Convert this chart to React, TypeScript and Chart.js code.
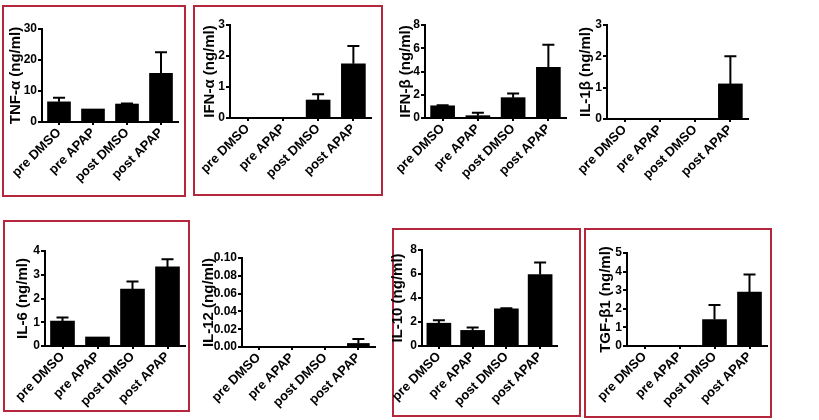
import React, { useEffect, useRef } from "react";
import { Chart, registerables } from "chart.js";

Chart.register(...registerables);
Chart.defaults.font.family = "'Liberation Sans', Arial, sans-serif";

// ---- data ----
const categories = ["pre DMSO", "pre APAP", "post DMSO", "post APAP"];

const tnfMean = [6.5, 4.2, 5.8, 15.7];
const tnfUpper = [7.8, 4.2, 6.0, 22.5];

const ifnaMean = [0, 0, 0.58, 1.75];
const ifnaUpper = [0, 0, 0.77, 2.32];

const ifnbMean = [1.05, 0.2, 1.75, 4.35];
const ifnbUpper = [1.1, 0.45, 2.1, 6.3];

const il1bMean = [0, 0, 0, 1.12];
const il1bUpper = [0, 0, 0, 2.0];

const il6Mean = [1.05, 0.38, 2.4, 3.33];
const il6Upper = [1.2, 0.38, 2.72, 3.65];

const il12Mean = [0, 0, 0, 0.004];
const il12Upper = [0, 0, 0, 0.009];

const il10Mean = [1.9, 1.3, 3.1, 5.95];
const il10Upper = [2.15, 1.55, 3.15, 6.95];

const tgfMean = [0, 0, 1.42, 2.9];
const tgfUpper = [0, 0, 2.2, 3.85];

// ---- layout ----
const X_AXIS_H = 72;
const PAD_TOP = 12;
const PAD_RIGHT = 6;

type PanelDef = {
  title: string;
  mean: number[];
  upper: number[];
  max: number;
  step: number;
  decimals: number;
  canvasLeft: number;
  axisX: number;
  right: number;
  yTop: number;
  yBottom: number;
  barW: number;
};

const panels: PanelDef[] = [
  { title: "TNF-α (ng/ml)", mean: tnfMean, upper: tnfUpper, max: 30, step: 10, decimals: 0, canvasLeft: 7, axisX: 42, right: 178, yTop: 29, yBottom: 122, barW: 23 },
  { title: "IFN-α (ng/ml)", mean: ifnaMean, upper: ifnaUpper, max: 3, step: 1, decimals: 0, canvasLeft: 201, axisX: 230, right: 371, yTop: 25, yBottom: 118, barW: 24 },
  { title: "IFN-β (ng/ml)", mean: ifnbMean, upper: ifnbUpper, max: 8, step: 2, decimals: 0, canvasLeft: 397, axisX: 425, right: 566, yTop: 25, yBottom: 118, barW: 24 },
  { title: "IL-1β (ng/ml)", mean: il1bMean, upper: il1bUpper, max: 3, step: 1, decimals: 0, canvasLeft: 577, axisX: 607, right: 748, yTop: 25, yBottom: 119, barW: 24 },
  { title: "IL-6 (ng/ml)", mean: il6Mean, upper: il6Upper, max: 4, step: 1, decimals: 0, canvasLeft: 14, axisX: 45, right: 185, yTop: 251, yBottom: 346, barW: 24 },
  { title: "IL-12 (ng/ml)", mean: il12Mean, upper: il12Upper, max: 0.1, step: 0.02, decimals: 2, canvasLeft: 200, axisX: 242, right: 375, yTop: 258, yBottom: 347, barW: 22 },
  { title: "IL-10 (ng/ml)", mean: il10Mean, upper: il10Upper, max: 8, step: 2, decimals: 0, canvasLeft: 389, axisX: 422, right: 557, yTop: 250, yBottom: 346, barW: 24 },
  { title: "TGF-β1 (ng/ml)", mean: tgfMean, upper: tgfUpper, max: 5, step: 1, decimals: 0, canvasLeft: 597, axisX: 627, right: 767, yTop: 253, yBottom: 346, barW: 24 },
];

const boxes = [
  { left: 2, top: 5, right: 186, bottom: 197 },
  { left: 193, top: 5, right: 383, bottom: 196 },
  { left: 3, top: 220, right: 190, bottom: 412 },
  { left: 392, top: 228, right: 581, bottom: 417 },
  { left: 584, top: 228, right: 772, bottom: 418 },
];

const errorBarPlugin = {
  id: "errorBars",
  afterDatasetsDraw(chart: any) {
    const ctx = chart.ctx;
    const yScale = chart.scales.y;
    chart.data.datasets.forEach((ds: any, di: number) => {
      const meta = chart.getDatasetMeta(di);
      const upper: number[] = ds.upper || [];
      meta.data.forEach((el: any, i: number) => {
        const u = upper[i];
        const m = ds.data[i];
        if (u === undefined || u <= m) return;
        const yv = yScale.getPixelForValue(m);
        const yu = yScale.getPixelForValue(u);
        ctx.save();
        ctx.strokeStyle = "#000";
        ctx.lineWidth = 2;
        ctx.beginPath();
        ctx.moveTo(el.x, yv);
        ctx.lineTo(el.x, yu);
        ctx.moveTo(el.x - 6, yu);
        ctx.lineTo(el.x + 6, yu);
        ctx.stroke();
        ctx.restore();
      });
    });
  },
};

function Panel({ p }: { p: PanelDef }) {
  const ref = useRef<HTMLCanvasElement | null>(null);
  const top = p.yTop - PAD_TOP;
  const width = p.right - p.canvasLeft + PAD_RIGHT;
  const height = p.yBottom - top + X_AXIS_H;
  const axisW = p.axisX - p.canvasLeft;

  useEffect(() => {
    if (!ref.current) return;
    const chart = new Chart(ref.current, {
      type: "bar",
      data: {
        labels: categories,
        datasets: [
          {
            data: p.mean,
            upper: p.upper,
            backgroundColor: "#000",
            borderWidth: 0,
            barThickness: p.barW,
          } as any,
        ],
      },
      options: {
        animation: false,
        responsive: false,
        maintainAspectRatio: false,
        devicePixelRatio: 1,
        layout: { padding: { top: PAD_TOP, right: PAD_RIGHT, left: 0, bottom: 0 } },
        plugins: { legend: { display: false }, tooltip: { enabled: false } },
        scales: {
          x: {
            offset: true,
            grid: { offset: false, drawOnChartArea: false, drawTicks: true, tickLength: 3, color: "#000", lineWidth: 2 },
            border: { display: true, color: "#000", width: 2 },
            ticks: {
              minRotation: 45,
              maxRotation: 45,
              autoSkip: false,
              color: "#000",
              padding: 0,
              font: { size: 13, weight: "bold" },
            },
            afterFit: (s: any) => {
              s.height = X_AXIS_H;
              s.paddingLeft = 0;
              s.paddingRight = 0;
            },
          },
          y: {
            min: 0,
            max: p.max,
            grid: { drawOnChartArea: false, drawTicks: true, tickLength: 4, color: "#000", lineWidth: 2 },
            border: { display: true, color: "#000", width: 2 },
            ticks: {
              stepSize: p.step,
              color: "#000",
              padding: 1,
              font: { size: 12, weight: "bold" },
              callback: (v: any) => Number(v).toFixed(p.decimals),
            },
            title: {
              display: true,
              text: p.title,
              color: "#000",
              padding: 0,
              font: { size: 15, weight: "bold" },
            },
            afterFit: (s: any) => {
              s.width = axisW;
              s.paddingTop = 0;
              s.paddingBottom = 0;
            },
          },
        },
      } as any,
      plugins: [errorBarPlugin],
    });
    return () => chart.destroy();
  }, []);

  return (
    <canvas
      ref={ref}
      width={width}
      height={height}
      style={{ position: "absolute", left: p.canvasLeft, top, width, height }}
    />
  );
}

export default function App() {
  return (
    <div style={{ position: "absolute", left: 0, top: 0, width: 819, height: 420, background: "#fff", overflow: "hidden" }}>
      {boxes.map((b, i) => (
        <div
          key={"b" + i}
          style={{
            position: "absolute",
            left: b.left,
            top: b.top,
            width: b.right - b.left,
            height: b.bottom - b.top,
            border: "2px solid #b3263b",
            boxSizing: "border-box",
          }}
        />
      ))}
      {panels.map((p, i) => (
        <Panel key={i} p={p} />
      ))}
    </div>
  );
}
